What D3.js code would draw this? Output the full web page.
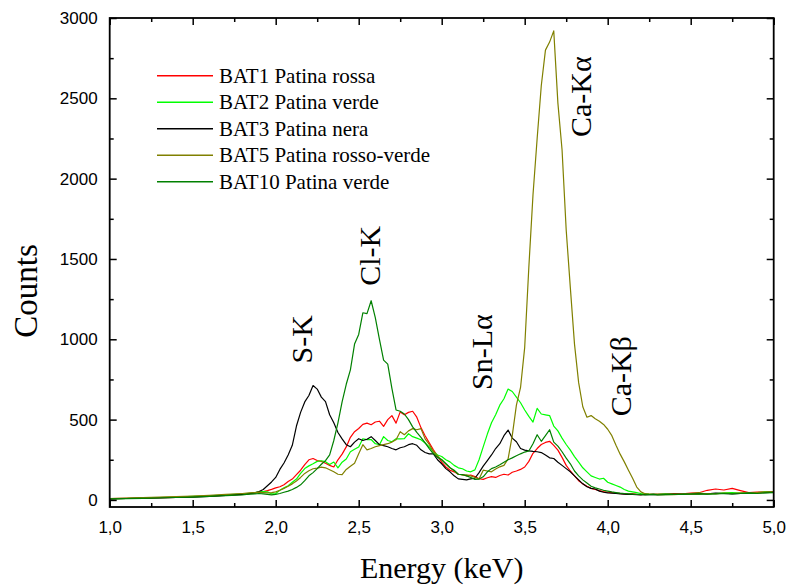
<!DOCTYPE html>
<html>
<head>
<meta charset="utf-8">
<script src="https://cdn.jsdelivr.net/npm/d3@7"></script>
<style>
  html, body { margin: 0; padding: 0; background: #fff; }
  svg { display: block; }
</style>
</head>
<body>
<svg id="chart" width="792" height="587"></svg>
<script>
// ---------------- DATA ----------------
const energy = [
  1.0,1.1,1.2,1.3,1.4,1.5,1.6,1.7,1.8,
  1.825,1.85,1.875,1.9,1.925,1.95,1.975,
  2.0,2.025,2.05,2.075,2.1,2.125,2.15,2.175,2.2,2.225,2.25,2.275,2.3,2.325,2.35,2.375,2.4,2.425,2.45,2.475,
  2.5,2.525,2.55,2.575,2.6,2.625,2.65,2.675,2.7,2.725,2.75,2.775,2.8,2.825,2.85,2.875,2.9,2.925,2.95,2.975,
  3.0,3.025,3.05,3.075,3.1,3.125,3.15,3.175,3.2,3.225,3.25,3.275,3.3,3.325,3.35,3.375,3.4,3.425,3.45,3.475,
  3.5,3.525,3.55,3.575,3.6,3.625,3.65,3.675,3.7,3.725,3.75,3.775,3.8,3.825,3.85,3.875,3.9,3.925,3.95,3.975,
  4.0,4.025,4.05,4.075,4.1,4.125,4.15,4.175,4.2,4.225,4.25,4.275,4.3,
  4.35,4.4,4.45,4.5,4.55,4.6,4.65,4.7,4.75,4.8,4.85,4.9,4.95,5.0
];

const bat1 = [
  8,10,12,14,16,20,24,30,36,
  38,42,45,48,52,58,66,
  75,82,95,115,130,158,185,220,250,258,245,240,228,215,205,250,285,330,390,425,
  445,470,478,468,485,490,458,500,525,478,548,530,545,552,515,450,400,355,312,275,
  235,205,185,175,160,158,150,155,145,132,128,138,145,140,152,160,155,172,180,190,
  205,240,290,320,345,358,365,340,310,265,215,180,150,120,100,85,72,65,58,52,
  48,45,42,40,38,36,38,35,33,36,34,35,37,
  36,40,38,42,45,60,68,62,72,58,45,48,50,52
];

const bat2 = [
  6,9,12,15,18,22,26,32,38,
  40,43,46,50,52,50,38,
  40,60,75,88,110,130,165,195,212,225,240,244,238,220,236,200,235,255,300,315,
  330,381,375,376,350,344,394,370,362,381,380,382,412,394,385,375,355,330,300,280,
  270,250,237,215,200,194,180,175,187,250,330,410,480,530,590,630,690,675,640,605,
  560,520,485,570,535,530,525,460,430,385,345,310,270,235,200,175,150,140,130,135,
  110,100,90,80,65,55,50,45,40,38,36,35,34,
  38,34,36,40,42,38,40,44,45,42,44,46,50,48
];

const bat3 = [
  7,9,11,13,15,18,22,28,34,
  36,40,44,52,65,88,112,
  140,190,230,280,340,460,545,610,650,712,690,640,612,530,480,420,380,344,331,360,
  381,370,378,394,370,344,338,331,320,312,325,331,344,350,340,312,295,287,287,250,
  225,195,175,150,131,128,125,131,135,170,210,245,280,320,350,400,435,385,362,320,
  310,305,302,300,295,280,262,258,235,215,195,175,150,125,100,82,72,68,55,48,
  44,42,40,38,36,34,35,33,32,34,33,34,33,
  35,34,36,38,40,38,42,40,38,40,42,44,46,48
];

const bat5 = [
  9,12,14,17,20,24,28,34,40,
  42,44,46,48,46,44,45,
  50,60,72,85,100,118,140,165,182,194,198,204,200,188,175,160,158,190,210,228,
  287,344,312,320,331,338,344,350,360,375,425,406,430,444,437,444,380,345,300,270,
  250,225,200,180,160,155,156,150,140,131,185,180,175,192,206,215,256,400,590,700,
  950,1450,1900,2250,2580,2800,2850,2920,2470,2180,1680,1320,970,730,580,515,525,505,490,470,
  440,400,340,285,237,185,135,80,50,38,36,35,33,
  34,33,36,38,36,40,38,42,40,44,42,45,48,50
];

const bat10 = [
  6,8,10,12,15,18,22,27,32,
  34,36,38,40,38,35,32,
  35,40,48,55,65,78,94,120,150,170,195,222,245,280,370,480,610,720,810,970,
  1030,1165,1160,1240,1135,1000,870,845,694,560,552,535,500,455,420,390,355,320,287,265,
  250,225,200,185,160,158,150,140,128,130,144,175,195,205,219,235,250,262,275,287,
  298,305,350,406,365,400,437,360,335,300,260,225,180,150,125,105,85,75,68,60,
  55,50,46,42,40,38,36,35,34,32,33,34,32,
  33,35,34,36,38,36,38,40,38,40,42,40,44,46
];

const seriesNames = ["BAT1 Patina rossa", "BAT2 Patina verde", "BAT3 Patina nera", "BAT5 Patina rosso-verde", "BAT10 Patina verde"];
const seriesValues = [bat1, bat2, bat3, bat5, bat10];
const seriesColors = ["#ff0000", "#00ff00", "#000000", "#808000", "#008000"];

const xTicks = [1.0, 1.5, 2.0, 2.5, 3.0, 3.5, 4.0, 4.5, 5.0];
const xTickLabels = ["1,0", "1,5", "2,0", "2,5", "3,0", "3,5", "4,0", "4,5", "5,0"];
const xMinorTicks = [1.25, 1.75, 2.25, 2.75, 3.25, 3.75, 4.25, 4.75];
const yTicks = [0, 500, 1000, 1500, 2000, 2500, 3000];
const yTickLabels = ["0", "500", "1000", "1500", "2000", "2500", "3000"];
const yMinorTicks = [250, 750, 1250, 1750, 2250, 2750];

const peakLabels = ["S-K", "Cl-K", "Sn-L\u03B1", "Ca-K\u03B1", "Ca-K\u03B2"];
const peakEnergy = [2.22, 2.63, 3.3, 3.9, 4.14];   // label anchor energies
const peakCounts = [1000, 1520, 920, 2510, 770];     // label centre heights

// ---------------- LAYOUT ----------------
const svg = d3.select("#chart");
const L = 109.7, R = 773.7, T = 18, B = 507;

const x = d3.scaleLinear().domain([1, 5]).range([L, R]);
const y = d3.scaleLinear().domain([-44, 3000]).range([B, T]);

const tickFont = "'Liberation Sans', Arial, sans-serif";
const serif = "'Liberation Serif', 'Times New Roman', serif";

// curves
const line = d3.line().x((d, i) => x(energy[i])).y(d => y(d));
const gLines = svg.append("g");
seriesValues.forEach((vals, k) => {
  gLines.append("path")
    .datum(vals)
    .attr("fill", "none")
    .attr("stroke", seriesColors[k])
    .attr("stroke-width", 1.2)
    .attr("stroke-linejoin", "round")
    .attr("d", line);
});

// axes
function styleAxis(g) {
  g.select(".domain").remove();
  g.selectAll(".tick line").attr("stroke", "#000").attr("stroke-width", 1.5);
  g.selectAll(".tick text").attr("font-family", tickFont).attr("font-size", 17).attr("fill", "#000");
}

svg.append("g").attr("transform", `translate(0,${B})`)
  .call(d3.axisBottom(x).tickValues(xTicks).tickFormat((d, i) => xTickLabels[i]).tickSize(-7).tickPadding(14))
  .call(styleAxis);
svg.append("g").attr("transform", `translate(0,${B})`)
  .call(d3.axisBottom(x).tickValues(xMinorTicks).tickFormat("").tickSize(-4))
  .call(styleAxis);
svg.append("g").attr("transform", `translate(0,${T})`)
  .call(d3.axisTop(x).tickValues(xTicks).tickFormat("").tickSize(-7))
  .call(styleAxis);
svg.append("g").attr("transform", `translate(0,${T})`)
  .call(d3.axisTop(x).tickValues(xMinorTicks).tickFormat("").tickSize(-4))
  .call(styleAxis);

svg.append("g").attr("transform", `translate(${L},0)`)
  .call(d3.axisLeft(y).tickValues(yTicks).tickFormat((d, i) => yTickLabels[i]).tickSize(-7).tickPadding(12))
  .call(styleAxis);
svg.append("g").attr("transform", `translate(${L},0)`)
  .call(d3.axisLeft(y).tickValues(yMinorTicks).tickFormat("").tickSize(-4))
  .call(styleAxis);
svg.append("g").attr("transform", `translate(${R},0)`)
  .call(d3.axisRight(y).tickValues(yTicks).tickFormat("").tickSize(-7))
  .call(styleAxis);
svg.append("g").attr("transform", `translate(${R},0)`)
  .call(d3.axisRight(y).tickValues(yMinorTicks).tickFormat("").tickSize(-4))
  .call(styleAxis);

// frame
svg.append("rect")
  .attr("x", L).attr("y", T).attr("width", R - L).attr("height", B - T)
  .attr("fill", "none").attr("stroke", "#000").attr("stroke-width", 1.8);

// axis titles
svg.append("text")
  .attr("x", (L + R) / 2).attr("y", 578)
  .attr("text-anchor", "middle")
  .attr("font-family", serif).attr("font-size", 30)
  .text("Energy (keV)");
svg.append("text")
  .attr("transform", "translate(37,291) rotate(-90)")
  .attr("text-anchor", "middle")
  .attr("font-family", serif).attr("font-size", 33)
  .text("Counts");

// peak annotations (rotated)
peakLabels.forEach((t, i) => {
  svg.append("text")
    .attr("transform", `translate(${x(peakEnergy[i])},${y(peakCounts[i])}) rotate(-90)`)
    .attr("text-anchor", "middle")
    .attr("font-family", serif).attr("font-size", 30)
    .text(t);
});

// legend
const legend = svg.append("g").attr("transform", "translate(157,75.7)");
seriesNames.forEach((name, i) => {
  const row = legend.append("g").attr("transform", `translate(0,${i * 26.5})`);
  row.append("line").attr("x1", 0).attr("x2", 56).attr("y1", 0).attr("y2", 0)
    .attr("stroke", seriesColors[i]).attr("stroke-width", 1.5);
  row.append("text").attr("x", 62).attr("y", 7)
    .attr("font-family", serif).attr("font-size", 21)
    .text(name);
});
</script>
</body>
</html>
